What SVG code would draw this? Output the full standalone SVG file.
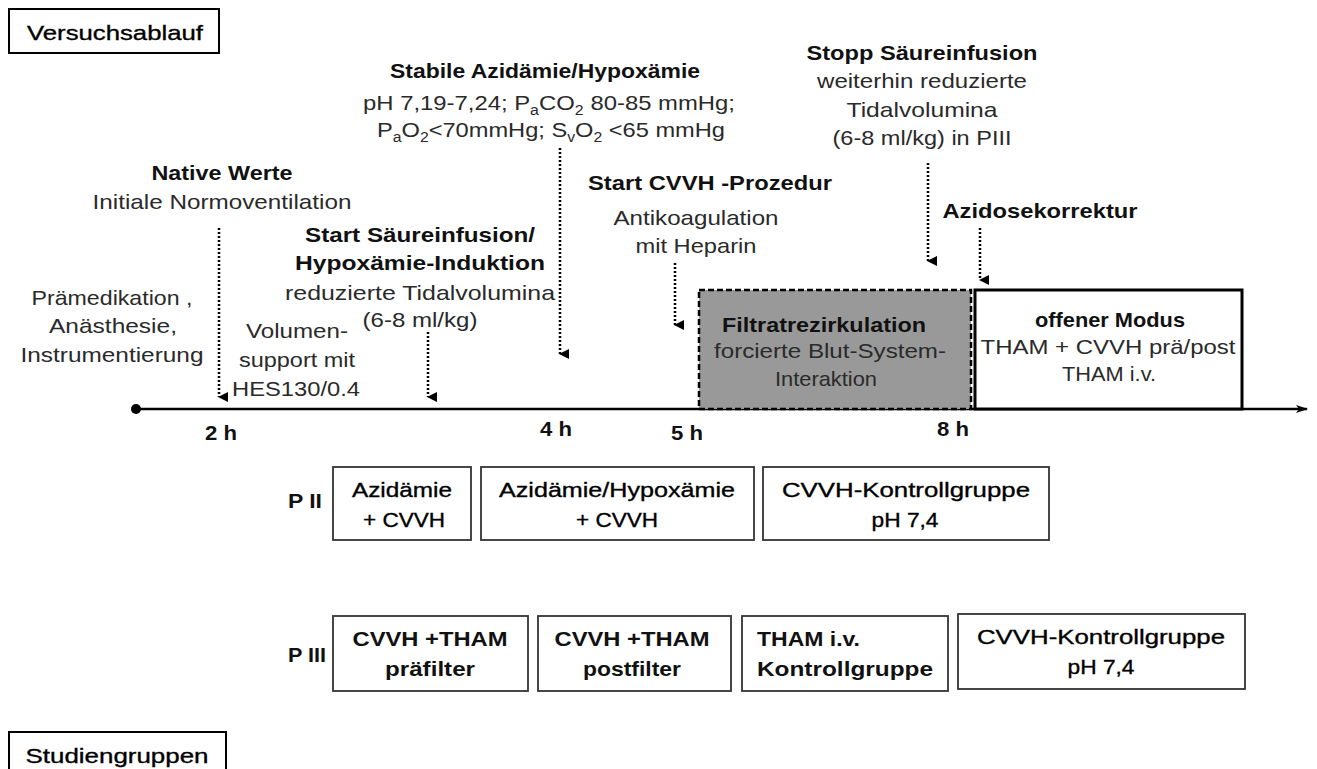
<svg xmlns="http://www.w3.org/2000/svg" width="1317" height="769" viewBox="0 0 1317 769">
<defs>
<style>
text{font-family:"Liberation Sans",Arial,sans-serif;fill:#111;}
.b{font-weight:bold;font-size:21px;}
.r{font-size:21px;fill:#2a2a2a;}
.m{font-size:21px;fill:#000;stroke:#000;stroke-width:0.35;}
.c{text-anchor:middle;}
.box{fill:#fff;stroke:#333;stroke-width:1.8;}
.dot{stroke:#000;stroke-width:2.5;stroke-dasharray:2 2;fill:none;}
.sub{font-size:14px;}
</style>
<marker id="ah" viewBox="0 0 10 10" refX="5" refY="9" markerWidth="10" markerHeight="10" markerUnits="userSpaceOnUse" orient="auto-start-reverse">
<path d="M0,0 L10,0 L5,10 Z" fill="#000"/>
</marker>
<marker id="ta" viewBox="0 0 12 10" refX="11" refY="5" markerWidth="12" markerHeight="10" markerUnits="userSpaceOnUse" orient="auto">
<path d="M0,1 L12,5 L0,9 L3,5 Z" fill="#000"/>
</marker>
</defs>

<g id="title-versuchsablauf">
<rect x="9" y="9" width="210" height="44" fill="#fff" stroke="#000" stroke-width="2"/>
<text x="115" y="40" class="m c" textLength="176" lengthAdjust="spacingAndGlyphs">Versuchsablauf</text>
</g>

<g id="title-studiengruppen">
<rect x="9" y="732" width="217" height="44" fill="#fff" stroke="#000" stroke-width="2"/>
<text x="117" y="763" class="m c" textLength="183" lengthAdjust="spacingAndGlyphs">Studiengruppen</text>
</g>

<g id="timeline">
<circle cx="136" cy="409" r="5" fill="#000"/>
<line x1="136" y1="409" x2="1307" y2="409" stroke="#000" stroke-width="2.5" marker-end="url(#ta)"/>
<text x="221" y="440" class="b c" font-size="20" textLength="32" lengthAdjust="spacingAndGlyphs">2 h</text>
<text x="556" y="436" class="b c" font-size="20" textLength="32" lengthAdjust="spacingAndGlyphs">4 h</text>
<text x="687" y="440" class="b c" font-size="20" textLength="32" lengthAdjust="spacingAndGlyphs">5 h</text>
<text x="953" y="436" class="b c" font-size="20" textLength="32" lengthAdjust="spacingAndGlyphs">8 h</text>
</g>

<g id="connectors">
<line class="dot" x1="219" y1="228" x2="219" y2="397" marker-end="url(#ah)"/>
<line class="dot" x1="428" y1="332" x2="428" y2="397" marker-end="url(#ah)"/>
<line class="dot" x1="560" y1="148" x2="560" y2="354" marker-end="url(#ah)"/>
<line class="dot" x1="675" y1="263" x2="675" y2="325" marker-end="url(#ah)"/>
<line class="dot" x1="928" y1="163" x2="928" y2="261" marker-end="url(#ah)"/>
<line class="dot" x1="980" y1="228" x2="980" y2="280" marker-end="url(#ah)"/>
</g>

<g id="praemedikation">
<text x="112" y="305" class="r c" textLength="161" lengthAdjust="spacingAndGlyphs">Prämedikation ,</text>
<text x="113" y="333" class="r c" textLength="128" lengthAdjust="spacingAndGlyphs">Anästhesie,</text>
<text x="112" y="362" class="r c" textLength="183" lengthAdjust="spacingAndGlyphs">Instrumentierung</text>
</g>

<g id="native-werte">
<text x="222" y="180" class="b c" textLength="141" lengthAdjust="spacingAndGlyphs">Native Werte</text>
<text x="222" y="209" class="r c" textLength="259" lengthAdjust="spacingAndGlyphs">Initiale Normoventilation</text>
</g>

<g id="volumensupport">
<text x="297" y="338" class="r c" textLength="102" lengthAdjust="spacingAndGlyphs">Volumen-</text>
<text x="297" y="367" class="r c" textLength="116" lengthAdjust="spacingAndGlyphs">support mit</text>
<text x="296" y="396" class="r c" textLength="128" lengthAdjust="spacingAndGlyphs">HES130/0.4</text>
</g>

<g id="start-saeureinfusion">
<text x="420" y="242" class="b c" textLength="230" lengthAdjust="spacingAndGlyphs">Start Säureinfusion/</text>
<text x="420" y="270" class="b c" textLength="250" lengthAdjust="spacingAndGlyphs">Hypoxämie-Induktion</text>
<text x="420" y="300" class="r c" textLength="270" lengthAdjust="spacingAndGlyphs">reduzierte Tidalvolumina</text>
<text x="420" y="327" class="r c" textLength="115" lengthAdjust="spacingAndGlyphs">(6-8 ml/kg)</text>
</g>

<g id="stabile-azidaemie">
<text x="545" y="78" class="b c" textLength="310" lengthAdjust="spacingAndGlyphs">Stabile Azidämie/Hypoxämie</text>
<text x="363" y="110" class="r" textLength="372" lengthAdjust="spacingAndGlyphs">pH 7,19-7,24; P<tspan class="sub" dy="5">a</tspan><tspan dy="-5">CO</tspan><tspan class="sub" dy="5">2</tspan><tspan dy="-5" dx="6">80-85 mmHg;</tspan></text>
<text x="377" y="137" class="r" textLength="348" lengthAdjust="spacingAndGlyphs">P<tspan class="sub" dy="5">a</tspan><tspan dy="-5">O</tspan><tspan class="sub" dy="5">2</tspan><tspan dy="-5">&lt;70mmHg; S</tspan><tspan class="sub" dy="5">v</tspan><tspan dy="-5">O</tspan><tspan class="sub" dy="5">2</tspan><tspan dy="-5"> &lt;65 mmHg</tspan></text>
</g>

<g id="start-cvvh">
<text x="710" y="190" class="b c" textLength="244" lengthAdjust="spacingAndGlyphs">Start CVVH -Prozedur</text>
<text x="696" y="225" class="r c" textLength="165" lengthAdjust="spacingAndGlyphs">Antikoagulation</text>
<text x="696" y="253" class="r c" textLength="121" lengthAdjust="spacingAndGlyphs">mit Heparin</text>
</g>

<g id="stopp-saeureinfusion">
<text x="922" y="60" class="b c" textLength="231" lengthAdjust="spacingAndGlyphs">Stopp Säureinfusion</text>
<text x="922" y="88" class="r c" textLength="210" lengthAdjust="spacingAndGlyphs">weiterhin reduzierte</text>
<text x="922" y="117" class="r c" textLength="151" lengthAdjust="spacingAndGlyphs">Tidalvolumina</text>
<text x="922" y="145" class="r c" textLength="179" lengthAdjust="spacingAndGlyphs">(6-8 ml/kg) in PIII</text>
</g>

<g id="azidosekorrektur">
<text x="1040" y="218" class="b c" textLength="195" lengthAdjust="spacingAndGlyphs">Azidosekorrektur</text>
</g>

<g id="filtratrezirkulation">
<rect x="699" y="290" width="272" height="119" fill="#999" stroke="#000" stroke-width="2.5" stroke-dasharray="6 3"/>
<text x="824" y="332" class="b c" textLength="204" lengthAdjust="spacingAndGlyphs">Filtratrezirkulation</text>
<text x="830" y="358" class="r c" textLength="232" lengthAdjust="spacingAndGlyphs">forcierte Blut-System-</text>
<text x="826" y="386" class="r c" textLength="102" lengthAdjust="spacingAndGlyphs">Interaktion</text>
</g>

<g id="offener-modus">
<rect x="975" y="290" width="267" height="119" fill="#fff" stroke="#000" stroke-width="3"/>
<text x="1110" y="327" class="b c" textLength="150" lengthAdjust="spacingAndGlyphs">offener Modus</text>
<text x="1108" y="354" class="r c" textLength="255" lengthAdjust="spacingAndGlyphs">THAM + CVVH prä/post</text>
<text x="1109" y="381" class="r c" textLength="94" lengthAdjust="spacingAndGlyphs">THAM i.v.</text>
</g>

<g id="label-p2">
<text x="305" y="508" class="b c" textLength="34" lengthAdjust="spacingAndGlyphs">P II</text>
</g>
<g id="p2-azidaemie">
<rect class="box" x="333" y="467" width="138" height="73"/>
<text x="402" y="497" class="m c" textLength="100" lengthAdjust="spacingAndGlyphs">Azidämie</text>
<text x="404" y="527" class="m c" textLength="82" lengthAdjust="spacingAndGlyphs">+ CVVH</text>
</g>
<g id="p2-azidaemie-hypoxaemie">
<rect class="box" x="481" y="467" width="273" height="73"/>
<text x="617" y="497" class="m c" textLength="236" lengthAdjust="spacingAndGlyphs">Azidämie/Hypoxämie</text>
<text x="617" y="527" class="m c" textLength="82" lengthAdjust="spacingAndGlyphs">+ CVVH</text>
</g>
<g id="p2-kontrolle">
<rect class="box" x="763" y="467" width="286" height="73"/>
<text x="906" y="497" class="m c" textLength="248" lengthAdjust="spacingAndGlyphs">CVVH-Kontrollgruppe</text>
<text x="905" y="527" class="m c" textLength="67" lengthAdjust="spacingAndGlyphs">pH 7,4</text>
</g>

<g id="label-p3">
<text x="307" y="662" class="b c" textLength="38" lengthAdjust="spacingAndGlyphs">P III</text>
</g>
<g id="p3-praefilter">
<rect class="box" x="333" y="616" width="195" height="75"/>
<text x="430" y="646" class="b c" textLength="155" lengthAdjust="spacingAndGlyphs">CVVH +THAM</text>
<text x="430" y="676" class="b c" textLength="90" lengthAdjust="spacingAndGlyphs">präfilter</text>
</g>
<g id="p3-postfilter">
<rect class="box" x="538" y="616" width="193" height="75"/>
<text x="632" y="646" class="b c" textLength="155" lengthAdjust="spacingAndGlyphs">CVVH +THAM</text>
<text x="632" y="676" class="b c" textLength="98" lengthAdjust="spacingAndGlyphs">postfilter</text>
</g>
<g id="p3-tham-iv">
<rect class="box" x="742" y="616" width="206" height="75"/>
<text x="757" y="646" class="b" textLength="103" lengthAdjust="spacingAndGlyphs">THAM i.v.</text>
<text x="757" y="676" class="b" textLength="176" lengthAdjust="spacingAndGlyphs">Kontrollgruppe</text>
</g>
<g id="p3-kontrolle">
<rect class="box" x="958" y="614" width="287" height="75"/>
<text x="1101" y="644" class="m c" textLength="248" lengthAdjust="spacingAndGlyphs">CVVH-Kontrollgruppe</text>
<text x="1101" y="674" class="m c" textLength="67" lengthAdjust="spacingAndGlyphs">pH 7,4</text>
</g>
</svg>
